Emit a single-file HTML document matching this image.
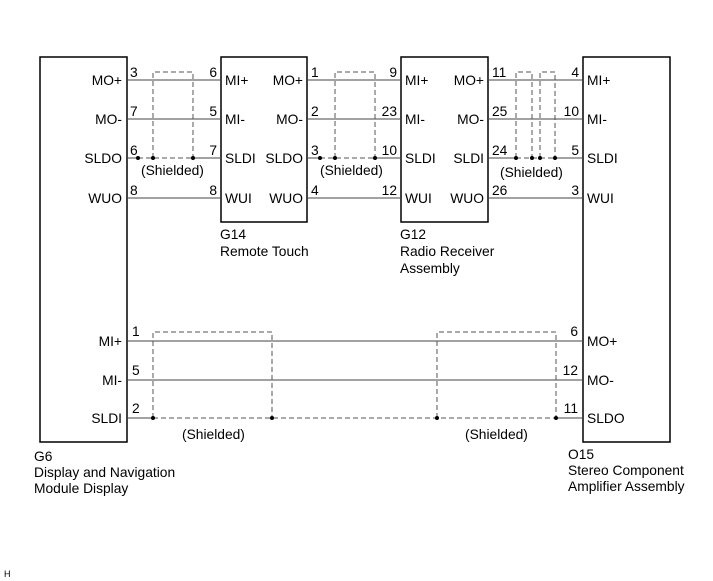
<!DOCTYPE html>
<html><head><style>
html,body{margin:0;padding:0;background:#fff;}
svg{display:block;}
text{font-family:"Liberation Sans",Arial,sans-serif;font-size:13.8px;fill:#000;}
</style></head><body>
<svg width="713" height="581" viewBox="0 0 713 581" xmlns="http://www.w3.org/2000/svg">
<g fill="none" stroke="#000" stroke-width="1.5">
<rect x="40" y="57" width="87" height="385"/>
<rect x="221" y="57" width="86" height="165"/>
<rect x="401" y="57" width="87" height="165"/>
<rect x="583" y="57" width="87" height="385"/>
</g>
<g stroke="#444" stroke-width="1">
<line x1="127" y1="80" x2="221" y2="80"/><line x1="127" y1="119" x2="221" y2="119"/>
<line x1="127" y1="198" x2="221" y2="198"/>
<line x1="127" y1="158" x2="138" y2="158"/><line x1="193" y1="158" x2="221" y2="158"/>
<line x1="307" y1="80" x2="401" y2="80"/><line x1="307" y1="119" x2="401" y2="119"/>
<line x1="307" y1="198" x2="401" y2="198"/>
<line x1="307" y1="158" x2="320" y2="158"/><line x1="375" y1="158" x2="401" y2="158"/>
<line x1="488" y1="80" x2="583" y2="80"/><line x1="488" y1="119" x2="583" y2="119"/>
<line x1="488" y1="198" x2="583" y2="198"/>
<line x1="488" y1="158" x2="516" y2="158"/><line x1="555" y1="158" x2="583" y2="158"/>
<line x1="127" y1="341" x2="583" y2="341"/><line x1="127" y1="380" x2="583" y2="380"/>
<line x1="127" y1="418" x2="153" y2="418"/><line x1="556" y1="418" x2="583" y2="418"/>
</g>
<g fill="none" stroke="#555" stroke-width="1" stroke-dasharray="5,3">
<polyline points="153,158 153,72 193,72 193,158"/><line x1="138" y1="158" x2="193" y2="158"/>
<polyline points="335,158 335,72 375,72 375,158"/><line x1="320" y1="158" x2="375" y2="158"/>
<polyline points="516,158 516,72 532,72 532,158"/><polyline points="540,158 540,72 555,72 555,158"/>
<line x1="516" y1="158" x2="555" y2="158"/>
<polyline points="153,418 153,332 272,332 272,418"/>
<polyline points="437,418 437,332 556,332 556,418"/>
<line x1="153" y1="418" x2="556" y2="418"/>
</g>
<g fill="#000">
<circle cx="138" cy="158" r="2"/><circle cx="153" cy="158" r="2"/><circle cx="193" cy="158" r="2"/>
<circle cx="320" cy="158" r="2"/><circle cx="335" cy="158" r="2"/><circle cx="375" cy="158" r="2"/>
<circle cx="516" cy="158" r="2"/><circle cx="532" cy="158" r="2"/><circle cx="540" cy="158" r="2"/><circle cx="555" cy="158" r="2"/>
<circle cx="153" cy="418" r="2"/><circle cx="272" cy="418" r="2"/><circle cx="437" cy="418" r="2"/><circle cx="556" cy="418" r="2"/>
</g>
<g text-anchor="end">
<text x="122" y="85">MO+</text><text x="122" y="124">MO-</text><text x="122" y="163">SLDO</text><text x="122" y="203">WUO</text>
<text x="303" y="85">MO+</text><text x="303" y="124">MO-</text><text x="303" y="163">SLDO</text><text x="303" y="203">WUO</text>
<text x="484" y="85">MO+</text><text x="484" y="124">MO-</text><text x="484" y="163">SLDI</text><text x="484" y="203">WUO</text>
<text x="122" y="346">MI+</text><text x="122" y="385">MI-</text><text x="122" y="423">SLDI</text>
<text x="217" y="77">6</text><text x="217" y="116">5</text><text x="217" y="155">7</text><text x="217" y="195">8</text>
<text x="397" y="77">9</text><text x="397" y="116">23</text><text x="397" y="155">10</text><text x="397" y="195">12</text>
<text x="579" y="77">4</text><text x="579" y="116">10</text><text x="579" y="155">5</text><text x="579" y="195">3</text>
<text x="578" y="336">6</text><text x="578" y="375">12</text><text x="578" y="413">11</text>
</g>
<g>
<text x="225" y="85">MI+</text><text x="225" y="124">MI-</text><text x="225" y="163">SLDI</text><text x="225" y="203">WUI</text>
<text x="405" y="85">MI+</text><text x="405" y="124">MI-</text><text x="405" y="163">SLDI</text><text x="405" y="203">WUI</text>
<text x="587" y="85">MI+</text><text x="587" y="124">MI-</text><text x="587" y="163">SLDI</text><text x="587" y="203">WUI</text>
<text x="587" y="346">MO+</text><text x="587" y="385">MO-</text><text x="587" y="423">SLDO</text>
<text x="130" y="77">3</text><text x="130" y="116">7</text><text x="130" y="155">6</text><text x="130" y="195">8</text>
<text x="311" y="77">1</text><text x="311" y="116">2</text><text x="311" y="155">3</text><text x="311" y="195">4</text>
<text x="492" y="77">11</text><text x="492" y="116">25</text><text x="492" y="155">24</text><text x="492" y="195">26</text>
<text x="132" y="336">1</text><text x="132" y="375">5</text><text x="132" y="413">2</text>
<text x="141" y="175">(Shielded)</text><text x="320" y="175">(Shielded)</text><text x="500" y="177">(Shielded)</text>
<text x="182" y="439">(Shielded)</text><text x="465" y="439">(Shielded)</text>
<text x="220" y="239">G14</text><text x="220" y="256">Remote Touch</text>
<text x="400" y="239">G12</text><text x="400" y="256">Radio Receiver</text><text x="400" y="273">Assembly</text>
<text x="34" y="461">G6</text><text x="34" y="477">Display and Navigation</text><text x="34" y="493">Module Display</text>
<text x="568" y="459">O15</text><text x="568" y="475">Stereo Component</text><text x="568" y="491">Amplifier Assembly</text>
<text x="4" y="577" style="font-size:9px">H</text>
</g>
</svg>
</body></html>
